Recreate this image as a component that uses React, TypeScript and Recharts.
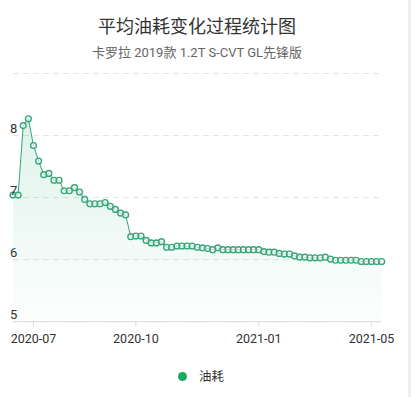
import React from 'react';
import { ComposedChart, Area, XAxis, YAxis, CartesianGrid } from 'recharts';

// 油耗 (L/100km)，按记录顺序
const fuel = [
  7.04, 7.04, 8.16, 8.27, 7.84, 7.59, 7.37, 7.39, 7.28, 7.28,
  7.11, 7.11, 7.16, 7.09, 6.97, 6.9, 6.9, 6.9, 6.92, 6.86,
  6.81, 6.75, 6.72, 6.37, 6.38, 6.38, 6.31, 6.27, 6.27, 6.29,
  6.2, 6.2, 6.22, 6.22, 6.22, 6.22, 6.2, 6.19, 6.18, 6.16,
  6.19, 6.16, 6.16, 6.16, 6.16, 6.16, 6.16, 6.16, 6.16, 6.13,
  6.12, 6.12, 6.1, 6.09, 6.09, 6.06, 6.04, 6.04, 6.03, 6.03,
  6.03, 6.04, 6.01, 5.99, 5.99, 5.99, 5.99, 5.99, 5.97, 5.97,
  5.97, 5.97, 5.97,
];
const tickIndex = [4, 24, 48, 70];
const tickLabels = ['2020-07', '2020-10', '2021-01', '2021-05'];
const yTicks = [5, 6, 7, 8, 9];
const seriesName = '油耗';
const title = '平均油耗变化过程统计图';
const subtitle = '卡罗拉 2019款 1.2T S-CVT GL先锋版';

const data = fuel.map((v, i) => ({ i, v }));

const FONT = 'Roboto, "Noto Sans CJK SC", sans-serif';
const LINE = '#36a57a';
const DOT = '#17ab60';

const renderYTick = (props: any) => {
  const { y, payload } = props;
  if (payload.value === 9) return <g />;
  return (
    <text x={10} y={y - 7.5} dy="0.35em" fill="#333" fontSize={13} fontFamily={FONT}>
      {payload.value}
    </text>
  );
};

export default function App() {
  return (
    <div style={{ position: 'absolute', left: 0, top: 0, width: 411, height: 397, background: '#fff', fontFamily: FONT }}>
      <div style={{ position: 'absolute', top: 15, left: 0, width: 394, textAlign: 'center', fontSize: 18, color: '#333', lineHeight: '24px' }}>
        {title}
      </div>
      <div style={{ position: 'absolute', top: 44, left: 0, width: 394, textAlign: 'center', fontSize: 13, color: '#666', lineHeight: '18px' }}>
        {subtitle}
      </div>
      <div style={{ position: 'absolute', top: 0, left: 408, width: 3, height: 397, background: '#efefef' }} />

      <ComposedChart
        width={411}
        height={397}
        data={data}
        margin={{ top: 73.5, right: 29.3, left: 12, bottom: 45.3 }}
        style={{ position: 'absolute', left: 0, top: 0 }}
      >
        <defs>
          <linearGradient id="fuelFill" x1="0" y1="0" x2="0" y2="1">
            <stop offset="0%" stopColor="#2db37a" stopOpacity={0.26} />
            <stop offset="100%" stopColor="#2db37a" stopOpacity={0.02} />
          </linearGradient>
        </defs>
        <CartesianGrid vertical={false} stroke="#e3e3e3" strokeDasharray="6 4" />
        <XAxis
          dataKey="i"
          type="category"
          ticks={tickIndex}
          interval={0}
          tickFormatter={(v: number) => tickLabels[tickIndex.indexOf(v)]}
          axisLine={{ stroke: '#ddd' }}
          tickLine={{ stroke: '#ddd' }}
          tickSize={5}
          tickMargin={7}
          height={30}
          tick={{ fill: '#333', fontSize: 12.5, fontFamily: FONT }}
        />
        <YAxis
          width={1}
          domain={[5, 9]}
          ticks={yTicks}
          interval={0}
          axisLine={false}
          tickLine={false}
          tick={renderYTick}
        />
        <Area
          type="linear"
          dataKey="v"
          name={seriesName}
          stroke={LINE}
          strokeWidth={1}
          fill="url(#fuelFill)"
          dot={{ r: 2.9, stroke: LINE, strokeWidth: 1.4, fill: '#fff' }}
          activeDot={false}
          isAnimationActive={false}
        />
      </ComposedChart>

      <div style={{ position: 'absolute', top: 372, left: 178, width: 9, height: 9, borderRadius: '50%', background: DOT }} />
      <div style={{ position: 'absolute', top: 368, left: 199, fontSize: 12.5, color: '#333', lineHeight: '18px' }}>
        {seriesName}
      </div>
    </div>
  );
}
